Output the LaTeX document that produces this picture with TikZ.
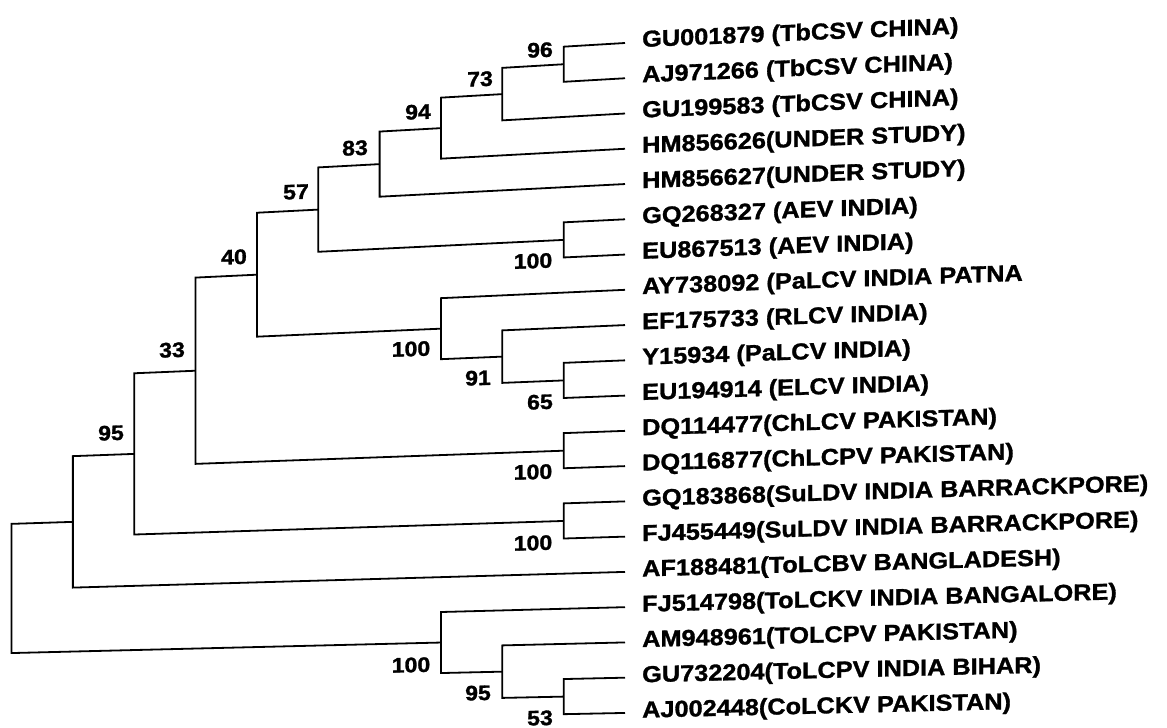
\documentclass[tikz,border=0pt]{standalone}
\usepackage{fontspec}
\newfontfamily\lf{Liberation Sans Bold}[FakeStretch=1.1, FakeBold=1.3]
% map a point of the straight tree to the (skewed) scan
\newcommand\mc[3]{\coordinate (#1) at ({#2},{(#3)+(625-(#2))*(0.06-0.04*((#3)-43)/670)});}
% bracket of a parent at x #1 with two children
\newcommand\br[5]{\mc{k#2}{#1}{#3}\mc{k#4}{#1}{#5}\draw[tree] (#2) -- (k#2) -- (k#4) -- (#4);}
% leaf tip and its label
\newcommand\leaf[4]{\mc{t#1}{625}{#2}\mc{p#1}{642}{#2+5}%
  \begin{scope}[shift={(p#1)}]\node[leaflab, yslant=#3] (l#1) at (0,0) {#4};\end{scope}}
% bootstrap value
\newcommand\bsv[5]{\begin{scope}[shift={(#2,#3)}]\node[bslab, yslant=#4] (#1) at (0,0) {#5};\end{scope}}
\tikzset{
  tree/.style={line width=1.8pt, line join=miter, black},
  leaflab/.style={anchor=base west, inner sep=0pt, font=\lf\fontsize{23}{23}\selectfont},
  bslab/.style={anchor=center, inner sep=0pt, font=\lf\fontsize{21}{21}\selectfont}
}
\begin{document}
\begin{tikzpicture}[x=1pt,y=-1pt]
\useasboundingbox (0,0) rectangle (1167,728);
% leaves
\leaf{0}{43}{0.042}{GU001879 (TbCSV CHINA)}
\leaf{1}{78.26}{0.041}{AJ971266 (TbCSV CHINA)}
\leaf{2}{113.52}{0.040}{GU199583 (TbCSV CHINA)}
\leaf{3}{148.78}{0.039}{HM856626(UNDER STUDY)}
\leaf{4}{184.04}{0.038}{HM856627(UNDER STUDY)}
\leaf{5}{219.3}{0.037}{GQ268327 (AEV INDIA)}
\leaf{6}{254.56}{0.036}{EU867513 (AEV INDIA)}
\leaf{7}{289.82}{0.035}{AY738092 (PaLCV INDIA PATNA}
\leaf{8}{325.08}{0.034}{EF175733 (RLCV INDIA)}
\leaf{9}{360.34}{0.033}{Y15934 (PaLCV INDIA)}
\leaf{10}{395.6}{0.032}{EU194914 (ELCV INDIA)}
\leaf{11}{430.86}{0.031}{DQ114477(ChLCV PAKISTAN)}
\leaf{12}{466.12}{0.030}{DQ116877(ChLCPV PAKISTAN)}
\leaf{13}{501.38}{0.029}{GQ183868(SuLDV INDIA BARRACKPORE)}
\leaf{14}{536.64}{0.028}{FJ455449(SuLDV INDIA BARRACKPORE)}
\leaf{15}{571.9}{0.027}{AF188481(ToLCBV BANGLADESH)}
\leaf{16}{607.16}{0.026}{FJ514798(ToLCKV INDIA BANGALORE)}
\leaf{17}{642.42}{0.025}{AM948961(TOLCPV PAKISTAN)}
\leaf{18}{677.68}{0.024}{GU732204(ToLCPV INDIA BIHAR)}
\leaf{19}{712.94}{0.023}{AJ002448(CoLCKV PAKISTAN)}
% internal nodes
\mc{nA}{563.65}{60.63}
\mc{nB}{502.3}{87.08}
\mc{nC}{440.95}{117.93}
\mc{nD}{379.6}{150.98}
\mc{nF}{563.65}{236.93}
\mc{nE}{318.25}{193.96}
\mc{nJ}{563.65}{377.97}
\mc{nI}{502.3}{351.52}
\mc{nH}{440.95}{320.67}
\mc{nG}{256.9}{257.31}
\mc{nK}{563.65}{448.49}
\mc{nL}{195.55}{352.9}
\mc{nM}{563.65}{519.01}
\mc{nN}{134.2}{435.96}
\mc{nO}{72.85}{503.93}
\mc{nR}{563.65}{695.31}
\mc{nQ}{502.3}{668.87}
\mc{nP}{440.95}{638.02}
% branches
\br{563.65}{t0}{43}{t1}{78.26}
\br{502.3}{nA}{60.63}{t2}{113.52}
\br{440.95}{nB}{87.08}{t3}{148.78}
\br{379.6}{nC}{117.93}{t4}{184.04}
\br{563.65}{t5}{219.3}{t6}{254.56}
\br{318.25}{nD}{150.98}{nF}{236.93}
\br{563.65}{t9}{360.34}{t10}{395.6}
\br{502.3}{t8}{325.08}{nJ}{377.97}
\br{440.95}{t7}{289.82}{nI}{351.52}
\br{256.9}{nE}{193.96}{nH}{320.67}
\br{563.65}{t11}{430.86}{t12}{466.12}
\br{195.55}{nG}{257.31}{nK}{448.49}
\br{563.65}{t13}{501.38}{t14}{536.64}
\br{134.2}{nL}{352.9}{nM}{519.01}
\br{72.85}{nN}{435.96}{t15}{571.9}
\br{563.65}{t18}{677.68}{t19}{712.94}
\br{502.3}{t17}{642.42}{nR}{695.31}
\br{440.95}{t16}{607.16}{nQ}{668.87}
\br{11.5}{nO}{503.93}{nP}{638.02}
% bootstrap values
\bsv{b96}{540}{50}{0.042}{96}
\bsv{b73}{480}{79}{0.041}{73}
\bsv{b94}{418}{112}{0.040}{94}
\bsv{b83}{355}{148}{0.039}{83}
\bsv{b57}{296}{192}{0.038}{57}
\bsv{b40}{234}{257}{0.036}{40}
\bsv{b33}{172}{350}{0.033}{33}
\bsv{b95a}{111}{433}{0.031}{95}
\bsv{b100F}{533}{261}{0.036}{100}
\bsv{b100H}{411}{349}{0.033}{100}
\bsv{b91}{478}{378}{0.032}{91}
\bsv{b65}{540}{402}{0.032}{65}
\bsv{b100K}{533}{472}{0.030}{100}
\bsv{b100M}{533}{543}{0.028}{100}
\bsv{b100P}{411}{665}{0.024}{100}
\bsv{b95Q}{478}{693}{0.024}{95}
\bsv{b53}{540}{718}{0.023}{53}
\end{tikzpicture}
\end{document}
